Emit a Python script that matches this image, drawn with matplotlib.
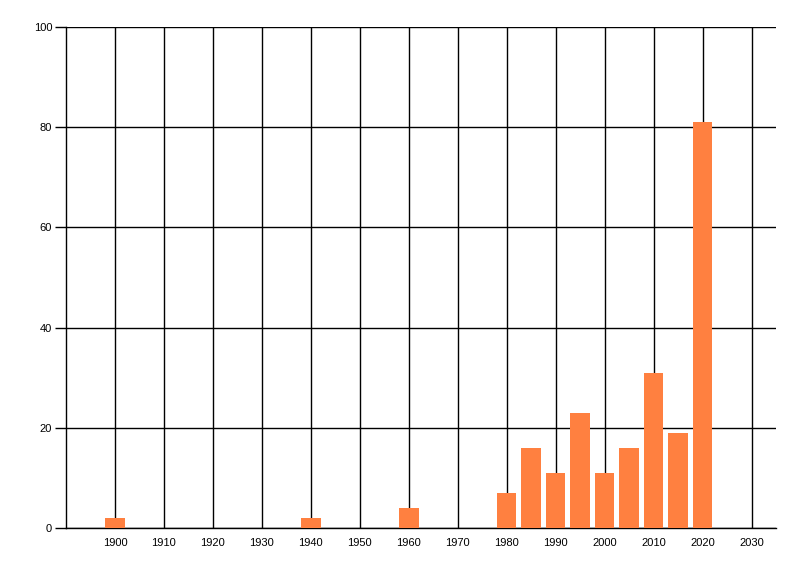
import matplotlib
matplotlib.use("Agg")
import matplotlib.pyplot as plt

plt.rcParams["font.family"] = ["Liberation Sans", "DejaVu Sans"]

years = [1900, 1940, 1960, 1980, 1985, 1990, 1995, 2000, 2005, 2010, 2015, 2020]
counts = [2, 2, 4, 7, 16, 11, 23, 11, 16, 31, 19, 81]
x_ticks = list(range(1900, 2031, 10))
y_ticks = [0, 20, 40, 60, 80, 100]

fig = plt.figure(figsize=(8, 5.76), dpi=100)
ax = fig.add_axes([66/800, 1-528/576, (776-66)/800, (528-27)/576])

ax.set_xlim(1890, 2035)
ax.set_ylim(0, 100)
ax.set_xticks(x_ticks)
ax.set_yticks(y_ticks)
ax.grid(True, color="black", linewidth=1)
ax.set_axisbelow(True)
ax.bar(years, counts, width=4, color="#FF8040", zorder=3)

for s in ["top", "right"]:
    ax.spines[s].set_visible(False)
ax.spines["left"].set_linewidth(1)
ax.spines["bottom"].set_linewidth(1)
ax.tick_params(axis="y", length=8, width=1, labelsize=8, pad=2)
ax.tick_params(axis="x", length=0, labelsize=8, pad=7)

fig.savefig("out.png", dpi=100)
